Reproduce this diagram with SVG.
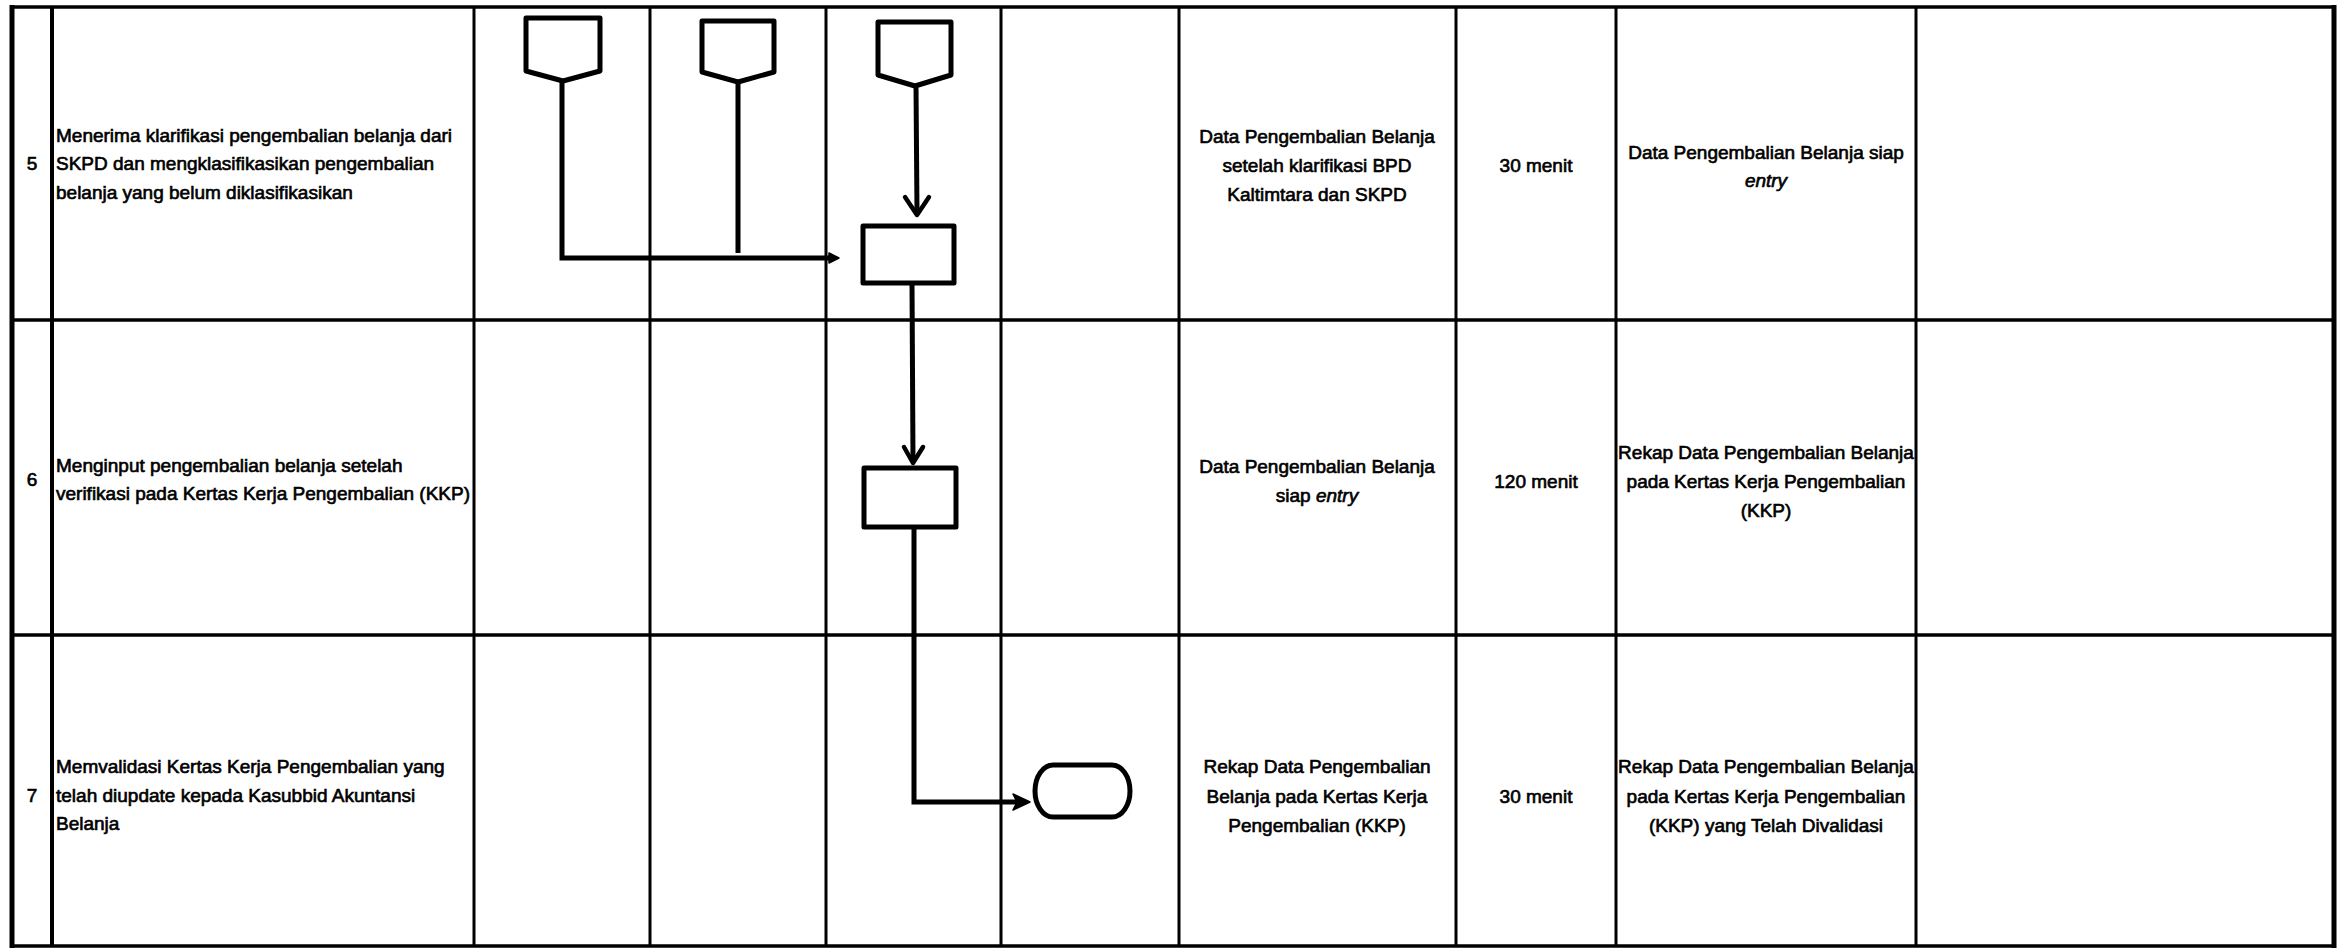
<svg xmlns="http://www.w3.org/2000/svg" width="2341" height="950" viewBox="0 0 2341 950">
<style>
.t{font-family:"Liberation Sans",Arial,sans-serif;font-size:19px;fill:#000;stroke:#000;stroke-width:0.65}
.c{text-anchor:middle}
.g{stroke:#000;fill:none}
.sh{fill:#fff;stroke:#000;stroke-width:5;stroke-linejoin:round}
.ln{fill:none;stroke:#000;stroke-width:5;stroke-linejoin:miter}
.av{fill:none;stroke:#000;stroke-width:4.5;stroke-linecap:round;stroke-linejoin:round}
.af{fill:#000;stroke:#000;stroke-width:1.5;stroke-linejoin:round}
</style>
<rect x="0" y="0" width="2341" height="950" fill="#fff"/>
<g id="grid">
  <g class="g" stroke-width="3">
    <line x1="52" y1="7" x2="52" y2="946" stroke-width="4"/>
    <line x1="474" y1="7" x2="474" y2="946"/>
    <line x1="650" y1="7" x2="650" y2="946"/>
    <line x1="826" y1="7" x2="826" y2="946"/>
    <line x1="1001" y1="7" x2="1001" y2="946"/>
    <line x1="1179" y1="7" x2="1179" y2="946"/>
    <line x1="1456" y1="7" x2="1456" y2="946"/>
    <line x1="1616" y1="7" x2="1616" y2="946"/>
    <line x1="1916" y1="7" x2="1916" y2="946"/>
    <line x1="12" y1="320" x2="2334" y2="320" stroke-width="3.5"/>
    <line x1="12" y1="635" x2="2334" y2="635" stroke-width="3.5"/>
  </g>
  <line x1="12" y1="7" x2="2334" y2="7" stroke="#000" stroke-width="3.5"/>
  <line x1="12" y1="946" x2="2334" y2="946" stroke="#000" stroke-width="3.5"/>
  <line x1="12" y1="5" x2="12" y2="948" stroke="#000" stroke-width="5"/>
  <line x1="2334" y1="5" x2="2334" y2="948" stroke="#000" stroke-width="5"/>
</g>
<g id="row5-text">
  <text class="t c" x="32" y="170">5</text>
  <text class="t" x="56" y="142">Menerima klarifikasi pengembalian belanja dari</text>
  <text class="t" x="56" y="170">SKPD dan mengklasifikasikan pengembalian</text>
  <text class="t" x="56" y="199">belanja yang belum diklasifikasikan</text>
  <text class="t c" x="1317" y="143">Data Pengembalian Belanja</text>
  <text class="t c" x="1317" y="172">setelah klarifikasi BPD</text>
  <text class="t c" x="1317" y="201">Kaltimtara dan SKPD</text>
  <text class="t c" x="1536" y="172">30 menit</text>
  <text class="t c" x="1766" y="159">Data Pengembalian Belanja siap</text>
  <text class="t c" x="1766" y="187" font-style="italic">entry</text>
</g>
<g id="row6-text">
  <text class="t c" x="32" y="486">6</text>
  <text class="t" x="56" y="472">Menginput pengembalian belanja setelah</text>
  <text class="t" x="56" y="500">verifikasi pada Kertas Kerja Pengembalian (KKP)</text>
  <text class="t c" x="1317" y="473">Data Pengembalian Belanja</text>
  <text class="t c" x="1317" y="502">siap <tspan font-style="italic">entry</tspan></text>
  <text class="t c" x="1536" y="488">120 menit</text>
  <text class="t c" x="1766" y="459">Rekap Data Pengembalian Belanja</text>
  <text class="t c" x="1766" y="488">pada Kertas Kerja Pengembalian</text>
  <text class="t c" x="1766" y="517">(KKP)</text>
</g>
<g id="row7-text">
  <text class="t c" x="32" y="802">7</text>
  <text class="t" x="56" y="773">Memvalidasi Kertas Kerja Pengembalian yang</text>
  <text class="t" x="56" y="802">telah diupdate kepada Kasubbid Akuntansi</text>
  <text class="t" x="56" y="830">Belanja</text>
  <text class="t c" x="1317" y="773">Rekap Data Pengembalian</text>
  <text class="t c" x="1317" y="803">Belanja pada Kertas Kerja</text>
  <text class="t c" x="1317" y="832">Pengembalian (KKP)</text>
  <text class="t c" x="1536" y="803">30 menit</text>
  <text class="t c" x="1766" y="773">Rekap Data Pengembalian Belanja</text>
  <text class="t c" x="1766" y="803">pada Kertas Kerja Pengembalian</text>
  <text class="t c" x="1766" y="832">(KKP) yang Telah Divalidasi</text>
</g>
<g id="connectors">
  <polyline class="ln" points="562,82 562,258 832,258"/>
  <polygon class="af" points="839,258 829,253 829,263"/>
  <line class="ln" x1="738" y1="83" x2="738" y2="253"/>
  <line class="ln" x1="916" y1="86" x2="917" y2="213"/>
  <polyline class="av" points="905,197 917,215 929,197"/>
  <line class="ln" x1="912" y1="283" x2="913" y2="461"/>
  <polyline class="av" points="904,447 913,463 923,447"/>
  <polyline class="ln" points="914,527 914,802 1022,802"/>
  <polygon class="af" points="1030,802 1013,794 1017,802 1013,810"/>
</g>
<g id="offpage1"><polygon class="sh" points="526,18 600,18 600,71 563,81 526,71"/></g>
<g id="offpage2"><polygon class="sh" points="702,21 774,21 774,72 738,82 702,72"/></g>
<g id="offpage3"><polygon class="sh" points="878,22 951,22 951,75 915,86 878,75"/></g>
<g id="process1"><rect class="sh" x="863" y="226" width="91" height="57"/></g>
<g id="process2"><rect class="sh" x="864" y="468" width="92" height="59"/></g>
<g id="terminator"><rect class="sh" x="1035" y="765" width="95" height="52" rx="18" ry="26"/></g>
</svg>
